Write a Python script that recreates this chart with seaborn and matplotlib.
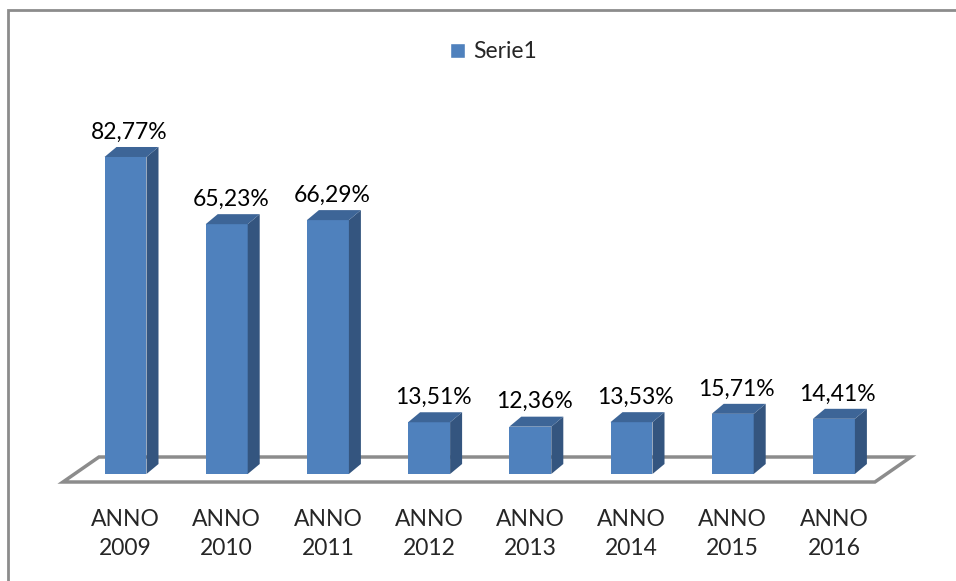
import numpy as np
import pandas as pd
import seaborn as sns
import matplotlib.pyplot as plt
from matplotlib.patches import Polygon, Rectangle

# Data
years = ['2009', '2010', '2011', '2012', '2013', '2014', '2015', '2016']
values = [82.77, 65.23, 66.29, 13.51, 12.36, 13.53, 15.71, 14.41]
series_name = 'Serie1'

df = pd.DataFrame({'cat': ['ANNO\n' + y for y in years], 'val': values})

FRONT = '#4F81BD'
SIDE = '#34557F'
TOP = '#3D6597'
GRID = '#8C8C8C'
FS = 16.5

sns.set_style('white')
plt.rcParams['font.family'] = ['Lato', 'DejaVu Sans']

W, H = 956, 581
fig = plt.figure(figsize=(W / 100, H / 100), dpi=100)
# axes: full width, bottom edge ~500 px from top
ax = fig.add_axes([0, 81 / H, 1, 1 - 81 / H])

sns.barplot(data=df, x='cat', y='val', color=FRONT, width=0.415,
            linewidth=0, saturation=1, ax=ax, zorder=3, legend=False)

# scale: category step ~101.2 px, 1% ~3.83 px, category 0 at 125.5 px, zero at 474 px
step_px, unit_px = 101.2, 3.83
ax.set_xlim(-125.5 / step_px, (W - 125.5) / step_px)
ax.set_ylim((81 - 107) / unit_px, (H - 107) / unit_px)

# 3D depth of bars (px -> data)
dx = 12 / step_px
dy = 10 / unit_px

for p, v in zip(ax.patches, values):
    x0, w, h = p.get_x(), p.get_width(), p.get_height()
    x1 = x0 + w
    side = Polygon([(x1, 0), (x1, h), (x1 + dx, h + dy), (x1 + dx, dy)],
                   closed=True, facecolor=SIDE, edgecolor='none', zorder=3)
    top = Polygon([(x0, h), (x1, h), (x1 + dx, h + dy), (x0 + dx, h + dy)],
                  closed=True, facecolor=TOP, edgecolor='none', zorder=3)
    ax.add_patch(side)
    ax.add_patch(top)
    ax.annotate(f'{v:.2f}%'.replace('.', ','), (x0 + w / 2 + dx / 3, h + dy),
                xytext=(0, 6), textcoords='offset points',
                ha='center', va='baseline', fontsize=FS, color='black', zorder=4)

# floor outline
n = len(values)
fl, fr = -0.5 - 0.118, n - 0.5 - 0.095
fy = -2.09
ddx, ddy = 36 / step_px, 25 / unit_px
floor = Polygon([(fl, fy), (fr, fy), (fr + ddx, fy + ddy), (fl + ddx, fy + ddy)],
                closed=True, facecolor='none', edgecolor=GRID, linewidth=2.5, zorder=1)
ax.add_patch(floor)

# axes styling
for s in ax.spines.values():
    s.set_visible(False)
ax.set_yticks([])
ax.set_xlabel('')
ax.set_ylabel('')
ax.tick_params(axis='x', length=0, pad=6.5, labelsize=FS)
for t in ax.get_xticklabels():
    t.set_linespacing(1.45)

# legend
ax.legend(handles=[Rectangle((0, 0), 1, 1, facecolor=FRONT)], labels=[series_name],
          loc='center', bbox_to_anchor=(0.516, 1 - 52 / H), bbox_transform=fig.transFigure,
          frameon=False, fontsize=FS, handlelength=0.65, handleheight=0.65,
          handletextpad=0.35)

# chart border
fig.patches.append(Rectangle((8 / W, -0.1), 1.1, 1 - 10 / H + 0.1, transform=fig.transFigure,
                             facecolor='none', edgecolor=GRID, linewidth=2))

fig.savefig('out.png', dpi=100)
